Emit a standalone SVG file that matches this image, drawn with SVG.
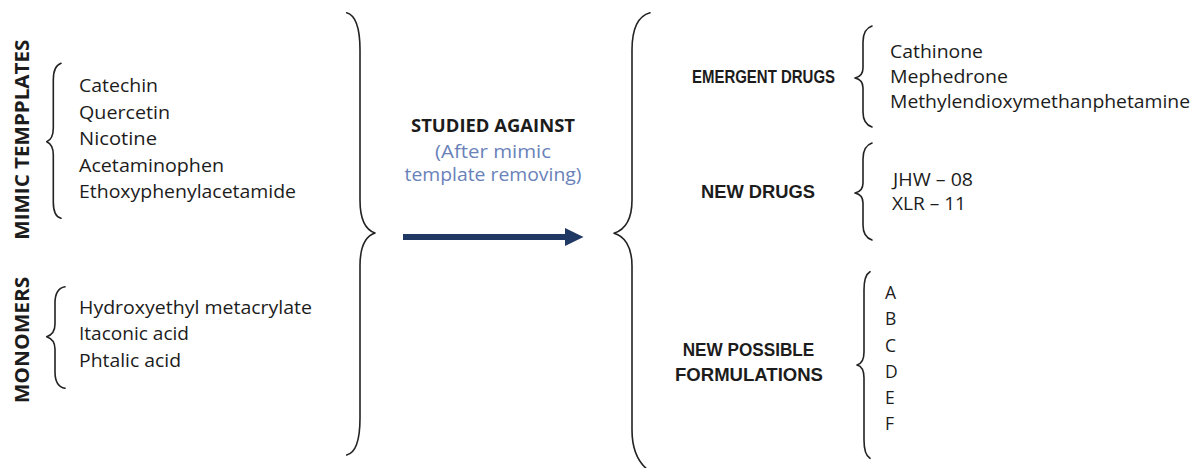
<svg xmlns="http://www.w3.org/2000/svg" width="1192" height="468" viewBox="0 0 1192 468">
<style>
  text { font-family: "Open Sans", "Liberation Sans", sans-serif; fill: #1c1c1c; }
  .item { font-size: 18.5px; }
  .ritem { font-size: 17.5px; }
  .hdr { font-weight: bold; font-size: 17.5px; font-family: "Liberation Sans", "Open Sans", sans-serif; }
  .vhdr { font-weight: bold; font-size: 20px; }
  .mid { font-weight: bold; font-size: 18.5px; }
  .note { font-size: 18px; fill: #6a82b9; }
  .brace { fill: none; stroke: #222; stroke-width: 1.6; stroke-linecap: round; stroke-linejoin: round; }
  .arrow { stroke: #1f3864; stroke-width: 6; fill: none; }
</style>
<rect width="1192" height="468" fill="#ffffff"/>

<g id="connectors">
  <!-- small left braces -->
  <path class="brace" d="M61,63.3 C56,65 53.3,70 53.3,80 L53.3,128 C53.3,136 51,140 46.7,141.7 C51,143.5 53.3,147 53.3,155 L53.3,202 C53.3,212 56,217 61,218.3"/>
  <path class="brace" d="M65,286.7 C58,288 55,294 55,303 L55,324 C55,331 52,335 46.7,336.7 C52,338.5 55,342 55,349 L55,372 C55,381 58,387 65,388.3"/>
  <!-- big left closing brace -->
  <path class="brace" d="M346.7,12.7 C355,15 360,25 360,50 L360,200 C360,220 366,230 375,233 C366,236 360,246 360,266 L360,418 C360,443 355,453 346.7,455"/>
  <!-- big right opening brace -->
  <path class="brace" d="M650,12.7 C638,16 632,28 632,50 L632,200 C632,220 624,230 614,233.3 C624,236 632,246 632,266 L632,430 C632,450 638,462 648,470"/>
  <!-- right small braces -->
  <path class="brace" d="M872,26 C866,28 863,33 863,42 L863,68 C863,74 860,77 855,78 C860,79 863,82 863,88 L863,112 C863,121 866,125 872,127"/>
  <path class="brace" d="M872,143 C866,145 863,150 863,159 L863,183 C863,189 860,192 855,193 C860,194 863,197 863,203 L863,225 C863,234 866,238 872,240"/>
  <path class="brace" d="M870,271.7 C866,274 864,279 864,290 L864,352 C864,360 861,364 857,365 C861,366 864,370 864,378 L864,440 C864,451 866,456 870,458.3"/>
  <!-- main arrow -->
  <line class="arrow" x1="403" y1="237" x2="567" y2="237"/>
  <polygon points="565,228 583.5,237 565,246" fill="#1f3864"/>
</g>

<g id="mimic-templates-label">
  <text class="vhdr" transform="translate(29.3,139.7) rotate(-90)" text-anchor="middle" textLength="200" lengthAdjust="spacingAndGlyphs">MIMIC TEMPPLATES</text>
</g>
<g id="mimic-templates-list">
  <text class="item" x="79" y="92.3" textLength="79" lengthAdjust="spacingAndGlyphs">Catechin</text>
  <text class="item" x="79" y="118.7" textLength="91" lengthAdjust="spacingAndGlyphs">Quercetin</text>
  <text class="item" x="79" y="145.3" textLength="78" lengthAdjust="spacingAndGlyphs">Nicotine</text>
  <text class="item" x="79" y="171.7" textLength="145" lengthAdjust="spacingAndGlyphs">Acetaminophen</text>
  <text class="item" x="79" y="198.3" textLength="217" lengthAdjust="spacingAndGlyphs">Ethoxyphenylacetamide</text>
</g>

<g id="monomers-label">
  <text class="vhdr" transform="translate(29.3,340) rotate(-90)" text-anchor="middle" textLength="126.7" lengthAdjust="spacingAndGlyphs">MONOMERS</text>
</g>
<g id="monomers-list">
  <text class="item" x="79" y="314.3" textLength="233" lengthAdjust="spacingAndGlyphs">Hydroxyethyl metacrylate</text>
  <text class="item" x="79" y="340.3" textLength="110" lengthAdjust="spacingAndGlyphs">Itaconic acid</text>
  <text class="item" x="79" y="366.7" textLength="102" lengthAdjust="spacingAndGlyphs">Phtalic acid</text>
</g>

<g id="studied-against">
  <text class="mid" x="493" y="131.7" text-anchor="middle" textLength="164" lengthAdjust="spacingAndGlyphs">STUDIED AGAINST</text>
  <text class="note" x="493" y="158" text-anchor="middle" textLength="116" lengthAdjust="spacingAndGlyphs">(After mimic</text>
  <text class="note" x="493" y="181" text-anchor="middle" textLength="177" lengthAdjust="spacingAndGlyphs">template removing)</text>
</g>

<g id="emergent-drugs">
  <text class="hdr" x="692" y="83" textLength="143" lengthAdjust="spacingAndGlyphs">EMERGENT DRUGS</text>
</g>
<g id="emergent-drugs-list">
  <text class="ritem" x="890" y="57.7" textLength="93" lengthAdjust="spacingAndGlyphs">Cathinone</text>
  <text class="ritem" x="890" y="83" textLength="118" lengthAdjust="spacingAndGlyphs">Mephedrone</text>
  <text class="ritem" x="890" y="107.7" textLength="300" lengthAdjust="spacingAndGlyphs">Methylendioxymethanphetamine</text>
</g>

<g id="new-drugs">
  <text class="hdr" x="701" y="198" textLength="114" lengthAdjust="spacingAndGlyphs">NEW DRUGS</text>
</g>
<g id="new-drugs-list">
  <text class="ritem" x="893" y="186" textLength="80" lengthAdjust="spacingAndGlyphs">JHW – 08</text>
  <text class="ritem" x="892" y="210" textLength="74" lengthAdjust="spacingAndGlyphs">XLR – 11</text>
</g>

<g id="new-possible-formulations">
  <text class="hdr" x="748.5" y="356" text-anchor="middle" textLength="131.6" lengthAdjust="spacingAndGlyphs">NEW POSSIBLE</text>
  <text class="hdr" x="749" y="380.7" text-anchor="middle" textLength="148" lengthAdjust="spacingAndGlyphs">FORMULATIONS</text>
</g>
<g id="formulations-list">
  <text class="ritem" x="885" y="299.3">A</text>
  <text class="ritem" x="885" y="325.3">B</text>
  <text class="ritem" x="885" y="351.7">C</text>
  <text class="ritem" x="885" y="377.5">D</text>
  <text class="ritem" x="885" y="403.5">E</text>
  <text class="ritem" x="885" y="430">F</text>
</g>
</svg>
